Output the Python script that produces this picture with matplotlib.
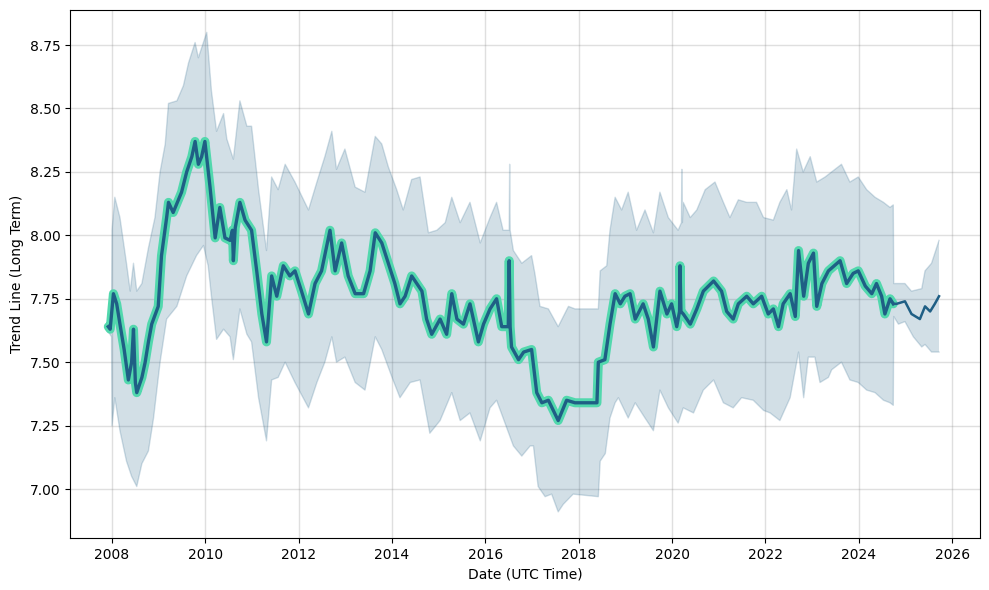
'''
Long term trend line with uncertainty band and short forecast
'''

import numpy as np
import matplotlib
matplotlib.use('Agg')
import matplotlib.pyplot as plt
from matplotlib.ticker import MultipleLocator, FormatStrFormatter

# ========================================================================
# data (decimal year, value)
# ========================================================================

# fitted trend over the history
trend_year = [2007.92, 2007.96, 2008.03, 2008.10, 2008.17, 2008.26, 2008.35, 2008.42, 2008.46, 2008.50,
              2008.53, 2008.64, 2008.71, 2008.78, 2008.85, 2008.99, 2009.06, 2009.17, 2009.21, 2009.31,
              2009.40, 2009.49, 2009.60, 2009.71, 2009.78, 2009.85, 2009.92, 2009.99, 2010.10, 2010.21,
              2010.31, 2010.42, 2010.53, 2010.58, 2010.60, 2010.64, 2010.74, 2010.85, 2010.99, 2011.10,
              2011.21, 2011.31, 2011.42, 2011.53, 2011.67, 2011.81, 2011.92, 2012.06, 2012.21, 2012.35,
              2012.49, 2012.67, 2012.78, 2012.92, 2013.06, 2013.21, 2013.39, 2013.53, 2013.64, 2013.78,
              2013.92, 2014.06, 2014.17, 2014.28, 2014.42, 2014.53, 2014.64, 2014.74, 2014.85, 2015.03,
              2015.17, 2015.28, 2015.39, 2015.53, 2015.67, 2015.85, 2015.96, 2016.10, 2016.24, 2016.35,
              2016.49, 2016.51, 2016.53, 2016.56, 2016.71, 2016.82, 2016.99, 2017.10, 2017.21, 2017.35,
              2017.56, 2017.74, 2017.92, 2018.39, 2018.42, 2018.56, 2018.67, 2018.78, 2018.89, 2018.99,
              2019.10, 2019.21, 2019.38, 2019.49, 2019.60, 2019.74, 2019.89, 2019.99, 2020.10, 2020.16,
              2020.17, 2020.19, 2020.24, 2020.39, 2020.53, 2020.67, 2020.89, 2021.06, 2021.17, 2021.31,
              2021.42, 2021.60, 2021.74, 2021.92, 2022.06, 2022.17, 2022.28, 2022.38, 2022.53, 2022.64,
              2022.71, 2022.82, 2022.92, 2023.03, 2023.10, 2023.21, 2023.35, 2023.60, 2023.74, 2023.88,
              2023.99, 2024.14, 2024.28, 2024.38, 2024.49, 2024.56, 2024.67, 2024.74]
trend_value = [7.64, 7.63, 7.77, 7.73, 7.65, 7.55, 7.43, 7.50, 7.63, 7.42,
               7.38, 7.44, 7.50, 7.58, 7.65, 7.72, 7.92, 8.07, 8.13, 8.09,
               8.13, 8.17, 8.25, 8.31, 8.37, 8.28, 8.31, 8.37, 8.19, 7.99,
               8.11, 7.99, 7.98, 8.02, 7.90, 8.03, 8.13, 8.06, 8.02, 7.86,
               7.69, 7.58, 7.84, 7.76, 7.88, 7.84, 7.86, 7.78, 7.69, 7.81,
               7.86, 8.02, 7.86, 7.97, 7.84, 7.77, 7.77, 7.86, 8.01, 7.97,
               7.89, 7.81, 7.73, 7.76, 7.84, 7.81, 7.78, 7.67, 7.61, 7.67,
               7.61, 7.77, 7.67, 7.65, 7.73, 7.58, 7.65, 7.71, 7.75, 7.64,
               7.64, 7.90, 7.64, 7.56, 7.51, 7.54, 7.55, 7.38, 7.34, 7.35,
               7.27, 7.35, 7.34, 7.34, 7.50, 7.51, 7.65, 7.77, 7.73, 7.76,
               7.77, 7.67, 7.73, 7.67, 7.56, 7.78, 7.69, 7.73, 7.64, 7.70,
               7.88, 7.70, 7.69, 7.65, 7.71, 7.78, 7.82, 7.78, 7.70, 7.67,
               7.73, 7.76, 7.73, 7.76, 7.69, 7.71, 7.64, 7.73, 7.77, 7.68,
               7.94, 7.76, 7.89, 7.93, 7.72, 7.81, 7.86, 7.90, 7.81, 7.85,
               7.86, 7.80, 7.77, 7.81, 7.76, 7.69, 7.75, 7.73]

# forecast part of the trend
fcst_year = [2024.74, 2024.81, 2024.99, 2025.13, 2025.31, 2025.42, 2025.53, 2025.63, 2025.72]
fcst_value = [7.73, 7.73, 7.74, 7.69, 7.67, 7.72, 7.70, 7.73, 7.76]

# upper edge of uncertainty band
upper_year = [2007.92, 2007.99, 2008.00, 2008.06, 2008.17, 2008.31, 2008.39, 2008.46, 2008.53, 2008.64,
              2008.78, 2008.92, 2009.03, 2009.14, 2009.21, 2009.39, 2009.53, 2009.64, 2009.78, 2009.85,
              2010.03, 2010.13, 2010.24, 2010.39, 2010.46, 2010.60, 2010.74, 2010.89, 2010.99, 2011.14,
              2011.31, 2011.42, 2011.56, 2011.71, 2011.92, 2012.21, 2012.39, 2012.56, 2012.71, 2012.81,
              2012.99, 2013.21, 2013.42, 2013.64, 2013.78, 2013.92, 2014.10, 2014.24, 2014.42, 2014.60,
              2014.78, 2014.96, 2015.14, 2015.28, 2015.46, 2015.67, 2015.89, 2016.10, 2016.24, 2016.38,
              2016.51, 2016.52, 2016.53, 2016.60, 2016.78, 2016.99, 2017.06, 2017.17, 2017.35, 2017.56,
              2017.78, 2017.92, 2018.42, 2018.46, 2018.60, 2018.67, 2018.78, 2018.92, 2019.06, 2019.24,
              2019.42, 2019.60, 2019.74, 2019.92, 2020.13, 2020.20, 2020.21, 2020.22, 2020.24, 2020.39,
              2020.53, 2020.71, 2020.92, 2021.10, 2021.24, 2021.42, 2021.60, 2021.81, 2021.96, 2022.17,
              2022.31, 2022.46, 2022.56, 2022.67, 2022.81, 2022.96, 2023.10, 2023.28, 2023.42, 2023.63,
              2023.81, 2023.99, 2024.17, 2024.35, 2024.53, 2024.67, 2024.74, 2024.75, 2024.99, 2025.13,
              2025.35, 2025.42, 2025.56, 2025.72]
upper_value = [7.66, 7.68, 8.02, 8.15, 8.07, 7.89, 7.78, 7.89, 7.78, 7.81,
               7.95, 8.07, 8.25, 8.36, 8.52, 8.53, 8.59, 8.68, 8.76, 8.70,
               8.80, 8.57, 8.41, 8.48, 8.38, 8.30, 8.53, 8.43, 8.43, 8.18,
               7.94, 8.23, 8.18, 8.28, 8.21, 8.10, 8.21, 8.31, 8.41, 8.26,
               8.34, 8.19, 8.17, 8.39, 8.36, 8.27, 8.18, 8.10, 8.22, 8.23,
               8.01, 8.02, 8.05, 8.15, 8.05, 8.13, 7.97, 8.07, 8.13, 8.02,
               8.02, 8.28, 8.02, 7.94, 7.89, 7.92, 7.85, 7.72, 7.71, 7.64,
               7.72, 7.71, 7.71, 7.86, 7.88, 8.02, 8.15, 8.10, 8.17, 8.02,
               8.10, 8.01, 8.17, 8.07, 8.02, 8.05, 8.26, 8.05, 8.13, 8.07,
               8.10, 8.18, 8.21, 8.13, 8.07, 8.14, 8.13, 8.13, 8.07, 8.06,
               8.13, 8.18, 8.10, 8.34, 8.25, 8.31, 8.21, 8.23, 8.25, 8.28,
               8.21, 8.23, 8.18, 8.15, 8.13, 8.11, 8.12, 7.81, 7.81, 7.78,
               7.79, 7.86, 7.89, 7.98]

# lower edge of uncertainty band
lower_year = [2007.92, 2007.99, 2008.00, 2008.06, 2008.17, 2008.31, 2008.42, 2008.53, 2008.64, 2008.78,
              2008.89, 2009.03, 2009.17, 2009.39, 2009.60, 2009.81, 2009.96, 2010.06, 2010.13, 2010.24,
              2010.39, 2010.53, 2010.60, 2010.74, 2010.89, 2010.99, 2011.14, 2011.31, 2011.42, 2011.56,
              2011.71, 2011.92, 2012.21, 2012.39, 2012.56, 2012.71, 2012.81, 2012.99, 2013.21, 2013.42,
              2013.64, 2013.78, 2014.00, 2014.17, 2014.39, 2014.60, 2014.81, 2015.03, 2015.28, 2015.46,
              2015.67, 2015.89, 2016.10, 2016.24, 2016.42, 2016.60, 2016.78, 2016.96, 2017.03, 2017.13,
              2017.28, 2017.42, 2017.56, 2017.67, 2017.88, 2018.42, 2018.46, 2018.57, 2018.67, 2018.78,
              2018.85, 2019.06, 2019.21, 2019.42, 2019.60, 2019.74, 2019.92, 2020.13, 2020.24, 2020.46,
              2020.67, 2020.89, 2021.10, 2021.31, 2021.49, 2021.74, 2021.96, 2022.10, 2022.31, 2022.53,
              2022.71, 2022.82, 2022.92, 2023.06, 2023.17, 2023.35, 2023.42, 2023.63, 2023.81, 2023.99,
              2024.17, 2024.35, 2024.53, 2024.67, 2024.74, 2024.75, 2024.85, 2024.99, 2025.17, 2025.35,
              2025.42, 2025.56, 2025.72]
lower_value = [7.62, 7.60, 7.25, 7.36, 7.23, 7.11, 7.05, 7.01, 7.10, 7.15,
               7.28, 7.50, 7.67, 7.72, 7.84, 7.92, 7.96, 7.88, 7.76, 7.59,
               7.63, 7.60, 7.51, 7.71, 7.61, 7.58, 7.36, 7.19, 7.43, 7.44,
               7.50, 7.42, 7.32, 7.42, 7.50, 7.60, 7.50, 7.52, 7.42, 7.39,
               7.60, 7.55, 7.44, 7.36, 7.42, 7.43, 7.22, 7.27, 7.38, 7.27,
               7.30, 7.19, 7.32, 7.35, 7.26, 7.17, 7.13, 7.17, 7.17, 7.01,
               6.97, 6.98, 6.91, 6.94, 6.98, 6.97, 7.11, 7.14, 7.28, 7.34,
               7.36, 7.28, 7.34, 7.28, 7.23, 7.39, 7.32, 7.26, 7.32, 7.30,
               7.39, 7.43, 7.34, 7.32, 7.36, 7.35, 7.31, 7.30, 7.27, 7.36,
               7.54, 7.36, 7.52, 7.52, 7.42, 7.44, 7.47, 7.50, 7.43, 7.42,
               7.39, 7.38, 7.35, 7.34, 7.33, 7.68, 7.65, 7.66, 7.60, 7.56,
               7.57, 7.54, 7.54]

# plot definitions
line_color = '#1f5f85'
glow_color = '#52d8ad'
band_color = '#1f5f85'

# ========================================================================
# plot
# ========================================================================

fig, ax = plt.subplots(figsize=(9.89, 5.9), dpi=100)

# uncertainty band as one polygon (upper edge then lower edge reversed)
band_x = np.concatenate([upper_year, lower_year[::-1]])
band_y = np.concatenate([upper_value, lower_value[::-1]])
ax.fill(band_x, band_y, color=band_color, alpha=0.2, linewidth=0)
ax.plot(upper_year, upper_value, color=band_color, alpha=0.2, linewidth=1)
ax.plot(lower_year, lower_value, color=band_color, alpha=0.2, linewidth=1)

# trend with glow, then forecast
ax.plot(trend_year, trend_value, color=glow_color, linewidth=6.5, solid_capstyle='round',
        solid_joinstyle='round')
ax.plot(trend_year, trend_value, color=line_color, linewidth=2.4)
ax.plot(fcst_year, fcst_value, color=line_color, linewidth=1.8)

# axes
ax.xaxis.set_major_locator(MultipleLocator(2))
ax.xaxis.set_major_formatter(FormatStrFormatter('%d'))
ax.yaxis.set_major_locator(MultipleLocator(0.25))
ax.yaxis.set_major_formatter(FormatStrFormatter('%.2f'))
ax.set_xlim(2007.10, 2026.60)
ax.set_ylim(6.807, 8.888)

ax.set_xlabel('Date (UTC Time)')
ax.set_ylabel('Trend Line (Long Term)')

ax.grid(True, color='gray', alpha=0.25, linewidth=1)
ax.set_axisbelow(True)

plt.subplots_adjust(left=0.0708, right=0.991, top=0.983, bottom=0.0881)
plt.savefig('out.png')
